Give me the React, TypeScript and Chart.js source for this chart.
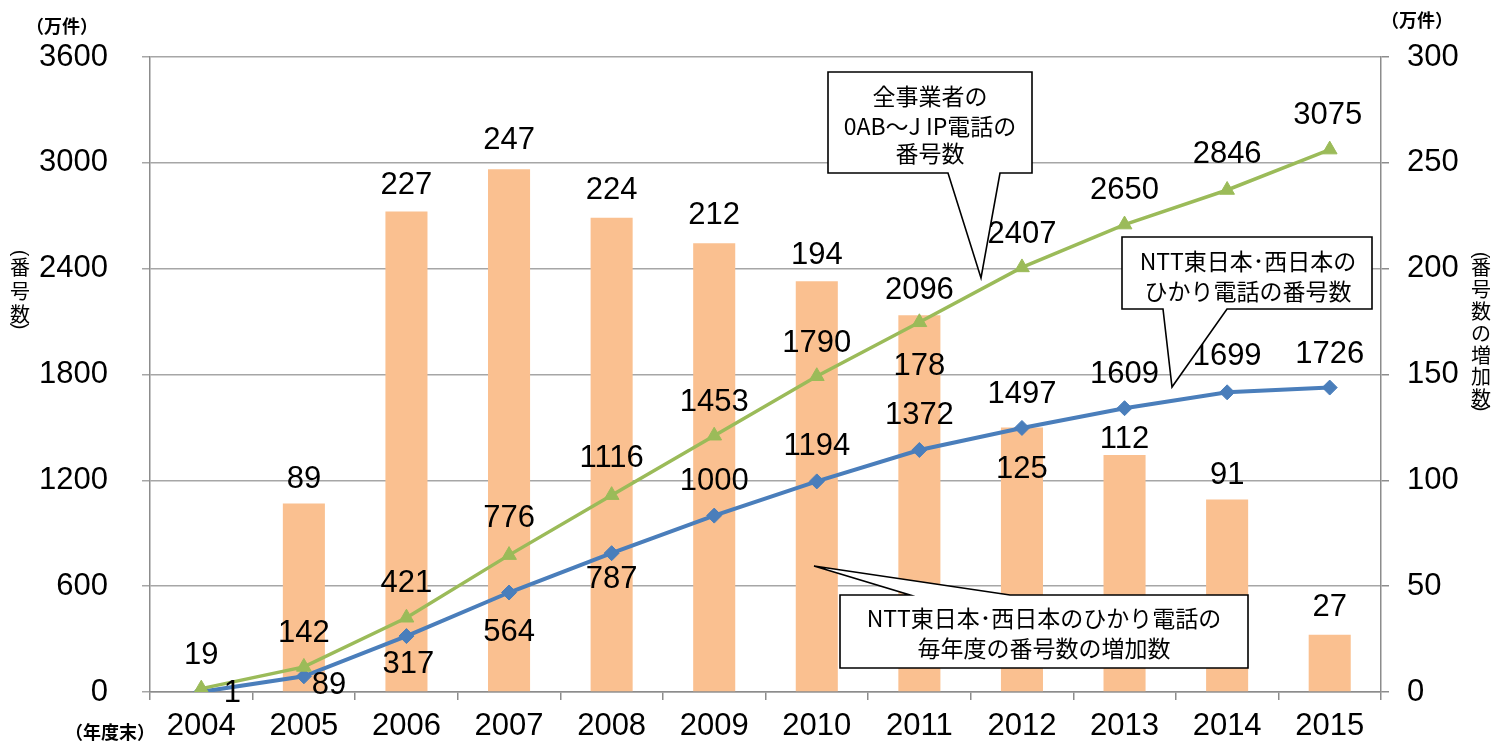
import React, { useEffect, useRef } from "react";
import { Chart, registerables } from "chart.js";

Chart.register(...registerables);

// ---- data ----
const years = ["2004", "2005", "2006", "2007", "2008", "2009", "2010", "2011", "2012", "2013", "2014", "2015"];
const allOperatorsIP = [19, 142, 421, 776, 1116, 1453, 1790, 2096, 2407, 2650, 2846, 3075];
const nttHikari = [1, 89, 317, 564, 787, 1000, 1194, 1372, 1497, 1609, 1699, 1726];
const nttYearlyIncrease = [null, 89, 227, 247, 224, 212, 194, 178, 125, 112, 91, 27];
const leftAxisMax = 3600;
const leftAxisStep = 600;
const rightAxisMax = 300;
const rightAxisStep = 50;

// ---- label placement (pixel offsets from the mark) ----
const greenLabelOffsets = [
  [0, -36], [0, -36], [0, -37], [0, -39], [0, -39], [0, -36],
  [0, -35], [0, -34], [0, -36], [0, -37], [0, -38], [-2, -37],
];
const blueLabelOffsets = [
  [31, -1], [25, 7], [2, 26], [0, 37], [0, 24], [0, -37],
  [0, -38], [0, -37], [0, -36], [0, -36], [0, -38], [0, -36],
];
const barLabelOffsets = [
  [0, 0], [0, -27], [0, -29], [0, -31], [0, -30], [0, -30],
  [0, -29], [0, 49], [0, 39], [0, -18], [0, -27], [0, -30],
];

const NUM_FONT = '"Liberation Sans", "Noto Sans CJK JP", sans-serif';
const JP_FONT = '"Noto Sans CJK JP", "Liberation Sans", sans-serif';
const NUM_SIZE = 31;

const valueLabelPlugin = {
  id: "valueLabels",
  afterDatasetsDraw(chart: any) {
    const ctx = chart.ctx;
    ctx.save();
    ctx.font = `${NUM_SIZE}px ${NUM_FONT}`;
    ctx.fillStyle = "#000";
    ctx.textAlign = "center";
    ctx.textBaseline = "alphabetic";
    chart.data.datasets.forEach((ds: any, di: number) => {
      const meta = chart.getDatasetMeta(di);
      const offs = ds.labelOffsets as number[][];
      meta.data.forEach((el: any, i: number) => {
        const v = ds.data[i];
        if (v == null) return;
        const [dx, dy] = offs[i];
        ctx.fillText(String(v), el.x + dx, el.y + dy + NUM_SIZE * 0.36);
      });
    });
    ctx.restore();
  },
};

function callout(ctx: CanvasRenderingContext2D, pts: number[][], lines: string[], cx: number, ys: number[], size: number) {
  ctx.save();
  ctx.beginPath();
  ctx.moveTo(pts[0][0], pts[0][1]);
  for (let i = 1; i < pts.length; i++) ctx.lineTo(pts[i][0], pts[i][1]);
  ctx.closePath();
  ctx.fillStyle = "#fff";
  ctx.fill();
  ctx.lineWidth = 1.6;
  ctx.strokeStyle = "#000";
  ctx.lineJoin = "miter";
  ctx.stroke();
  ctx.fillStyle = "#000";
  ctx.font = `${size}px ${JP_FONT}`;
  ctx.textAlign = "center";
  ctx.textBaseline = "middle";
  lines.forEach((t, i) => ctx.fillText(t, cx, ys[i]));
  ctx.restore();
}

function verticalText(ctx: CanvasRenderingContext2D, x: number, items: [string, number][], size: number) {
  ctx.save();
  ctx.fillStyle = "#000";
  ctx.textAlign = "center";
  ctx.textBaseline = "middle";
  items.forEach(([ch, y]) => {
    if (ch === "(" || ch === ")") {
      ctx.save();
      ctx.translate(x, y);
      ctx.rotate(Math.PI / 2);
      ctx.font = `${size}px ${NUM_FONT}`;
      ctx.fillText(ch, 0, 0);
      ctx.restore();
    } else {
      ctx.font = `${size}px ${JP_FONT}`;
      ctx.fillText(ch, x, y);
    }
  });
  ctx.restore();
}

const annotationPlugin = {
  id: "annotations",
  afterDraw(chart: any) {
    const ctx: CanvasRenderingContext2D = chart.ctx;
    callout(
      ctx,
      [[828, 72], [1032, 72], [1032, 173], [1000, 173], [981, 278], [948, 173], [828, 173]],
      ["全事業者の", "0AB～J IP電話の", "番号数"],
      930,
      [96, 126, 153],
      23
    );
    callout(
      ctx,
      [[1122, 237], [1372, 237], [1372, 309], [1227, 309], [1172, 387], [1163, 309], [1122, 309]],
      ["NTT東日本･西日本の", "ひかり電話の番号数"],
      1248,
      [261, 291],
      23
    );
    callout(
      ctx,
      [[840, 595], [910, 595], [814, 566], [1010, 595], [1248, 595], [1248, 668], [840, 668]],
      ["NTT東日本･西日本のひかり電話の", "毎年度の番号数の増加数"],
      1044,
      [618, 648],
      23
    );

    ctx.save();
    ctx.fillStyle = "#000";
    ctx.textAlign = "center";
    ctx.textBaseline = "middle";
    ctx.font = `bold 18px ${JP_FONT}`;
    ctx.fillText("（万件）", 62, 26);
    ctx.fillText("（万件）", 1417, 20);
    ctx.fillText("（年度末）", 110, 732);
    ctx.restore();

    verticalText(ctx, 20, [["(", 253], ["番", 267], ["号", 291], ["数", 314], [")", 326]], 20);
    verticalText(
      ctx,
      1481,
      [["(", 255], ["番", 267], ["号", 289], ["数", 311], ["の", 333], ["増", 355], ["加", 376], ["数", 398], [")", 408]],
      20
    );
  },
};

export default function App() {
  const ref = useRef<HTMLCanvasElement | null>(null);

  useEffect(() => {
    if (!ref.current) return;
    const chart = new Chart(ref.current, {
      type: "bar",
      data: {
        labels: years,
        datasets: [
          {
            type: "line",
            label: "全事業者の0AB～J IP電話の番号数",
            data: allOperatorsIP,
            yAxisID: "y",
            borderColor: "#9BBB59",
            backgroundColor: "#9BBB59",
            borderWidth: 3.5,
            pointStyle: "triangle",
            pointRadius: 8.5,
            pointBorderWidth: 1,
            pointBackgroundColor: "#9BBB59",
            pointBorderColor: "#9BBB59",
            tension: 0,
            order: 0,
            labelOffsets: greenLabelOffsets,
          } as any,
          {
            type: "line",
            label: "NTT東日本・西日本のひかり電話の番号数",
            data: nttHikari,
            yAxisID: "y",
            borderColor: "#4A7EBB",
            backgroundColor: "#4A7EBB",
            borderWidth: 4,
            pointStyle: "rectRot",
            pointRadius: 7.5,
            pointBorderWidth: 1,
            pointBackgroundColor: "#4A7EBB",
            pointBorderColor: "#4A7EBB",
            tension: 0,
            order: 1,
            labelOffsets: blueLabelOffsets,
          } as any,
          {
            type: "bar",
            label: "NTT東日本・西日本のひかり電話の毎年度の番号数の増加数",
            data: nttYearlyIncrease,
            yAxisID: "y1",
            backgroundColor: "#FAC090",
            borderWidth: 0,
            barPercentage: 0.41,
            categoryPercentage: 1,
            order: 2,
            labelOffsets: barLabelOffsets,
          } as any,
        ],
      },
      options: {
        responsive: false,
        animation: false,
        devicePixelRatio: 1,
        layout: { padding: { top: 57, left: 0, right: 0, bottom: 0 } },
        plugins: {
          legend: { display: false },
          tooltip: { enabled: false },
          title: { display: false },
        },
        scales: {
          x: {
            offset: true,
            grid: {
              offset: true,
              drawOnChartArea: false,
              drawTicks: true,
              tickLength: 8,
              color: "#8c8c8c",
              lineWidth: 1.5,
            },
            border: { display: true, color: "#8c8c8c", width: 1.5 },
            ticks: {
              autoSkip: false,
              maxRotation: 0,
              padding: 8,
              color: "#000",
              font: { family: NUM_FONT, size: NUM_SIZE },
            },
            afterFit(scale: any) {
              scale.height = 53;
            },
          },
          y: {
            position: "left",
            min: 0,
            max: leftAxisMax,
            ticks: {
              stepSize: leftAxisStep,
              padding: 34,
              color: "#000",
              font: { family: NUM_FONT, size: NUM_SIZE },
              callback: (v: any) => String(v),
            },
            grid: {
              color: "#a6a6a6",
              lineWidth: 1.5,
              tickLength: 8,
              drawTicks: true,
            },
            border: { display: true, color: "#8c8c8c", width: 1.5 },
            afterFit(scale: any) {
              scale.width = 150;
            },
          },
          y1: {
            position: "right",
            min: 0,
            max: rightAxisMax,
            ticks: {
              stepSize: rightAxisStep,
              padding: 18,
              color: "#000",
              font: { family: NUM_FONT, size: NUM_SIZE },
              callback: (v: any) => String(v),
            },
            grid: {
              drawOnChartArea: false,
              drawTicks: true,
              tickLength: 8,
              color: "#8c8c8c",
              lineWidth: 1.5,
            },
            border: { display: true, color: "#8c8c8c", width: 1.5 },
            afterFit(scale: any) {
              scale.width = 126;
            },
          },
        },
      } as any,
      plugins: [valueLabelPlugin, annotationPlugin],
    });
    return () => chart.destroy();
  }, []);

  return (
    <div style={{ position: "absolute", left: 0, top: 0, width: 1507, height: 745 }}>
      <canvas ref={ref} width={1507} height={745} style={{ display: "block", width: 1507, height: 745 }} />
    </div>
  );
}
